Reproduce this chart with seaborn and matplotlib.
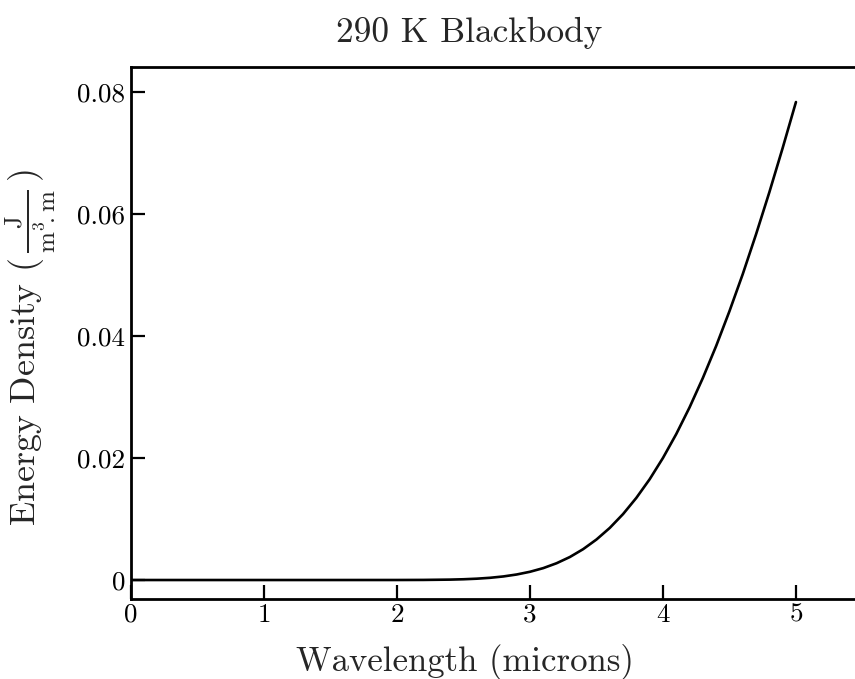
import matplotlib
matplotlib.use("Agg")
import matplotlib.pyplot as plt
import seaborn as sns
import pandas as pd

# Wavelength (microns) and energy density (J / m^3 . m)
wavelength = [0.0, 0.5, 1.0, 1.5, 2.0, 2.2, 2.4, 2.5, 2.6, 2.7, 2.8, 2.9, 3.0,
              3.1, 3.2, 3.3, 3.4, 3.5, 3.6, 3.7, 3.8, 3.9, 4.0, 4.1, 4.2,
              4.3, 4.4, 4.5, 4.6, 4.7, 4.8, 4.9, 5.0]
energy = [0.0, 0.0, 0.0, 0.0, 0.0000026, 0.0000156, 0.000066, 0.000123,
          0.000217, 0.000364, 0.000585, 0.000905, 0.00135, 0.00195, 0.00275,
          0.00377, 0.00506, 0.00664, 0.00854, 0.01081, 0.01347, 0.01652,
          0.02001, 0.02393, 0.02830, 0.03312, 0.03837, 0.04407, 0.05015,
          0.05668, 0.06357, 0.07082, 0.07836]
x_ticks = [0, 1, 2, 3, 4, 5]
y_ticks = [0, 0.02, 0.04, 0.06, 0.08]
y_tick_labels = ["0", "0.02", "0.04", "0.06", "0.08"]

sns.set_style("ticks")
plt.rcParams["font.family"] = ["cmr10"]
plt.rcParams["mathtext.fontset"] = "cm"
plt.rcParams["axes.formatter.use_mathtext"] = True

df = pd.DataFrame({"wavelength": wavelength, "energy": energy})

fig = plt.figure(figsize=(8.55, 6.79), dpi=100)
ax = fig.add_axes([0.1532, 0.1178, 1.0 - 0.1532, 0.9013 - 0.1178])
sns.lineplot(data=df, x="wavelength", y="energy", color="black", linewidth=1.9, ax=ax)

ax.set_xlim(0, 5.444)
ax.set_ylim(-0.003115, 0.0841)
ax.set_xticks(x_ticks)
ax.set_xticklabels([str(t) for t in x_ticks])
ax.set_yticks(y_ticks)
ax.set_yticklabels(y_tick_labels)

for side in ["left", "bottom", "top"]:
    ax.spines[side].set_linewidth(2.0)
    ax.spines[side].set_color("black")
ax.spines["right"].set_visible(False)

ax.tick_params(axis="both", direction="in", length=10, width=1.6,
               labelsize=19.5, colors="black", pad=4)
ax.tick_params(axis="x", pad=3)

ax.set_title("290 K Blackbody", fontsize=25.5, x=0.4676, pad=18)
ax.set_xlabel("Wavelength (microns)", fontsize=25)
ax.xaxis.set_label_coords(0.461, -0.085)
ax.set_ylabel(r"Energy Density $(\,\frac{\mathrm{J}}{\mathrm{m^3\!.m}}\,)$", fontsize=25.8)
ax.yaxis.set_label_coords(-0.101, 0.4737)

fig.savefig("out.png", dpi=100)
